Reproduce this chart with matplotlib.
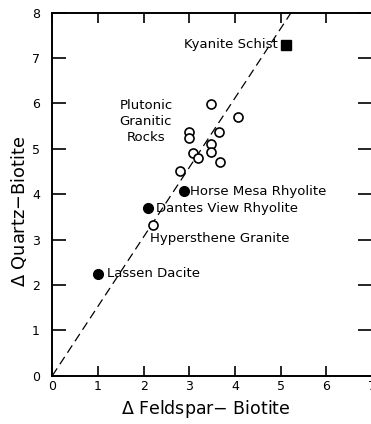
import numpy as np
import matplotlib
matplotlib.use("Agg")
import matplotlib.pyplot as plt

# plutonic granitic rocks (open circles)
plut_x = [3.47, 4.07, 3.65, 3.00, 3.00, 3.09, 3.19, 3.47, 3.47, 3.67, 2.79]
plut_y = [5.99, 5.70, 5.36, 5.37, 5.24, 4.91, 4.80, 5.10, 4.93, 4.71, 4.51]

# named volcanic samples (filled circles)
volc_names = ["Horse Mesa Rhyolite", "Dantes View Rhyolite", "Lassen Dacite"]
volc_x = [2.88, 2.09, 0.99]
volc_y = [4.06, 3.69, 2.25]

hyp_x, hyp_y = 2.21, 3.32      # Hypersthene Granite
kya_x, kya_y = 5.11, 7.29      # Kyanite Schist

slope = 1.53                   # dashed reference line through origin

fig = plt.figure(figsize=(3.71, 4.24), dpi=100)
ax = fig.add_axes([0.141, 0.1139, 0.862, 0.8566])

xl = np.array([0, 8 / slope])
ax.plot(xl, slope * xl, color="black", lw=0.9, dashes=(7, 4))

ax.plot(plut_x, plut_y, "o", ms=6.5, mfc="white", mec="black", mew=1.2, ls="none")
ax.plot(hyp_x, hyp_y, "o", ms=6.5, mfc="white", mec="black", mew=1.2)
ax.plot(volc_x, volc_y, "o", ms=7, color="black", ls="none")
ax.plot(kya_x, kya_y, "s", ms=7, color="black")

fs = 9.5
ax.text(4.93, kya_y, "Kyanite Schist", fontsize=fs, ha="right", va="center")
ax.text(2.05, 5.59, "Plutonic\nGranitic\nRocks", fontsize=fs, ha="center",
        va="center", linespacing=1.3)
ax.text(volc_x[0] + 0.14, volc_y[0], volc_names[0], fontsize=fs, va="center")
ax.text(volc_x[1] + 0.18, volc_y[1], volc_names[1], fontsize=fs, va="center")
ax.text(volc_x[2] + 0.2, volc_y[2], volc_names[2], fontsize=fs, va="center")
ax.text(hyp_x - 0.08, hyp_y - 0.3, "Hypersthene Granite", fontsize=fs, va="center")

ax.set_xlim(0, 7)
ax.set_ylim(0, 8)
ax.set_xticks(range(0, 8))
ax.set_yticks(range(0, 9))
ax.tick_params(direction="in", length=10, width=1.2, top=True, right=True,
               labelsize=9, pad=3)
ax.tick_params(axis="x", length=7)
ax.tick_params(axis="y", pad=9)
for s in ax.spines.values():
    s.set_linewidth(1.4)

ax.set_xlabel("$\\Delta$ Feldspar$-$ Biotite", fontsize=12.5)
ax.set_ylabel("$\\Delta$ Quartz$-$Biotite", fontsize=12.8)
ax.xaxis.set_label_coords(0.479, -0.062)
ax.yaxis.set_label_coords(-0.072, 0.451)

fig.savefig("out.png", dpi=100)
